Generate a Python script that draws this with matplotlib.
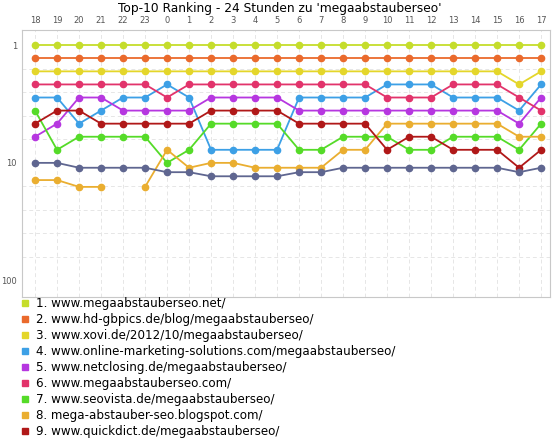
import numpy as np
import matplotlib.pyplot as plt

hours = [18, 19, 20, 21, 22, 23, 0, 1, 2, 3, 4, 5, 6, 7, 8, 9, 10, 11, 12, 13, 14, 15, 16, 17]
N = None
names = [
    "1. www.megaabstauberseo.net/",
    "2. www.hd-gbpics.de/blog/megaabstauberseo/",
    "3. www.xovi.de/2012/10/megaabstauberseo/",
    "4. www.online-marketing-solutions.com/megaabstauberseo/",
    "5. www.netclosing.de/megaabstauberseo/",
    "6. www.megaabstauberseo.com/",
    "7. www.seovista.de/megaabstauberseo/",
    "8. mega-abstauber-seo.blogspot.com/",
    "9. www.quickdict.de/megaabstauberseo/",
    "11. www.readers-edition.de/2012/10/18/megaabstauberseo/",
]
colors = ["#c5dd2b", "#ea6a2c", "#e4d62a", "#3da0e6", "#b637e0",
          "#e2336b", "#55db28", "#eaae30", "#b01818", "#5f6690"]
ranks = [
    [1] * 24,
    [2] * 24,
    [3] * 22 + [4, 3],
    [5, 5, 7, 6, 5, 5, 4, 5, 9, 9, 9, 9, 5, 5, 5, 5, 4, 4, 4, 5, 5, 5, 6, 4],
    [8, 7, 5, 5, 6, 6, 6, 6, 5, 5, 5, 5, 6, 6, 6, 6, 6, 6, 6, 6, 6, 6, 7, 5],
    [4, 4, 4, 4, 4, 4, 5, 4, 4, 4, 4, 4, 4, 4, 4, 4, 5, 5, 5, 4, 4, 4, 5, 6],
    [6, 9, 8, 8, 8, 8, 10, 9, 7, 7, 7, 7, 9, 9, 8, 8, 8, 9, 9, 8, 8, 8, 9, 7],
    [14, 14, 16, 16, N, 16, 9, 11, 10, 10, 11, 11, 11, 11, 9, 9, 7, 7, 7, 7, 7, 7, 8, 8],
    [7, 6, 6, 7, 7, 7, 7, 7, 6, 6, 6, 6, 7, 7, 7, 7, 9, 8, 8, 9, 9, 9, 11, 9],
    [10, 10, 11, 11, 11, 11, 12, 12, 13, 13, 13, 13, 12, 12, 11, 11, 11, 11, 11, 11, 11, 11, 12, 11],
]


# linear from 1 to 10, log from 10 to 100
def fwd(r):
    r = np.asarray(r, dtype=float)
    return np.where(r <= 10, (r - 1) / 9, 1 + np.log10(np.maximum(r, 1e-9) / 10))


def inv(t):
    t = np.asarray(t, dtype=float)
    return np.where(t <= 1, 1 + 9 * t, 10 * 10 ** (t - 1))


fig = plt.figure(figsize=(5.6, 4.4), dpi=100)
ax = fig.add_axes([0.039, 0.325, 0.943, 0.607])
ax.set_yscale("function", functions=(fwd, inv))

x = np.arange(len(hours))
for name, c, r in zip(names, colors, ranks):
    y = np.array([np.nan if v is None else v for v in r], dtype=float)
    ax.plot(x, y, color=c, lw=1.3, marker="o", ms=4.5, label=name)

ax.set_ylim(inv(2.14), inv(-0.13))
ax.set_xlim(-0.6, 23.4)
ax.set_yticks([1, 10, 100])
ax.set_yticklabels(["1", "10", "100"])
ax.set_yticks(inv(np.arange(0, 2.01, 0.2)), minor=True)
ax.set_xticks(x)
ax.set_xticklabels([str(h) for h in hours])
ax.xaxis.tick_top()
ax.tick_params(axis="both", length=0, labelsize=6, colors="#555555")
ax.tick_params(axis="y", which="minor", length=0)
ax.grid(True, which="minor", axis="y", ls=(0, (4, 3)), color="#e6e6e6", lw=0.7)
ax.grid(True, which="major", axis="x", ls=(0, (4, 3)), color="#e6e6e6", lw=0.7)
for s in ax.spines.values():
    s.set_color("#c8c8c8")

fig.suptitle("Top-10 Ranking - 24 Stunden zu 'megaabstauberseo'", y=0.995, fontsize=8.8)

handles = [plt.Line2D([], [], ls="", marker="s", ms=5, color=c) for c in colors]
fig.legend(handles, names, loc="upper left", bbox_to_anchor=(0.025, 0.335),
           frameon=False, fontsize=8.6, labelspacing=0.25, handletextpad=0.4,
           handlelength=1.0, borderaxespad=0, prop={"family": "DejaVu Sans", "size": 8.6})

fig.savefig("out.png", dpi=100)
